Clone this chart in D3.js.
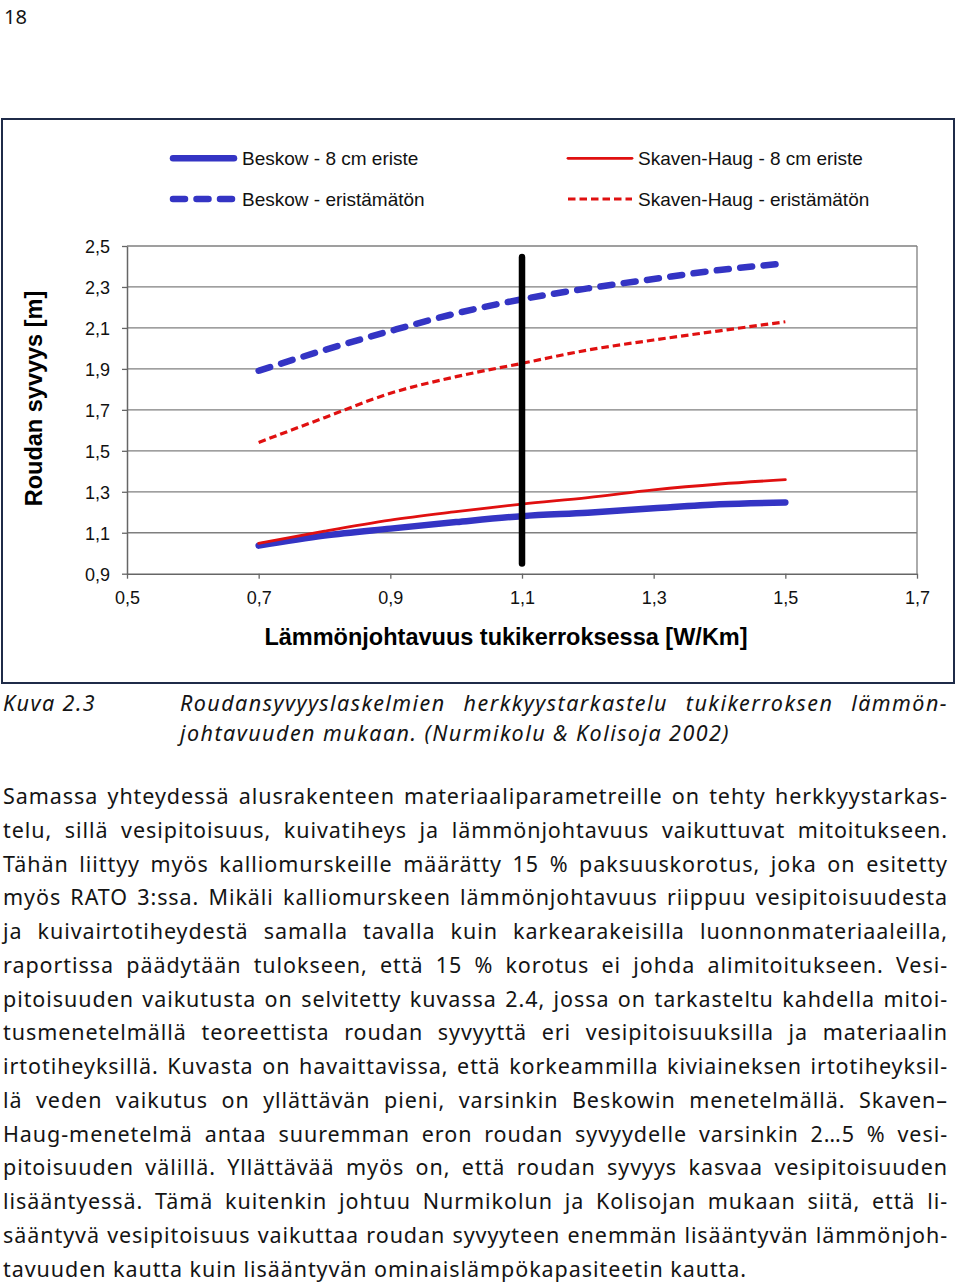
<!DOCTYPE html>
<html>
<head>
<meta charset="utf-8">
<script src="https://cdn.jsdelivr.net/npm/d3@7/dist/d3.min.js"></script>
<style>
  html, body { margin: 0; padding: 0; background: #fff; }
  svg { display: block; }
</style>
</head>
<body>
<svg id="page" width="960" height="1286"></svg>
<script>
// ---------------- DATA ----------------
const conductivity = [0.7, 0.8, 0.9, 1.0, 1.1, 1.2, 1.3, 1.4, 1.5];
const beskowInsulated   = [1.037, 1.086, 1.120, 1.152, 1.181, 1.198, 1.219, 1.239, 1.248];
const beskowUninsulated = [1.891, 1.992, 2.085, 2.171, 2.240, 2.293, 2.339, 2.383, 2.415];
const skavenInsulated   = [1.048, 1.108, 1.162, 1.203, 1.240, 1.271, 1.309, 1.338, 1.359];
const skavenUninsulated = [1.541, 1.662, 1.781, 1.862, 1.927, 1.992, 2.041, 2.086, 2.130];
const referenceK = 1.1;
const referenceDepth = [0.95, 2.446];

const seriesNames = ["Beskow - 8 cm eriste", "Beskow - eristämätön", "Skaven-Haug - 8 cm eriste", "Skaven-Haug - eristämätön"];
const xTicks = [0.5, 0.7, 0.9, 1.1, 1.3, 1.5, 1.7];
const xTickLabels = ["0,5", "0,7", "0,9", "1,1", "1,3", "1,5", "1,7"];
const yTicks = [0.9, 1.1, 1.3, 1.5, 1.7, 1.9, 2.1, 2.3, 2.5];
const yTickLabels = ["0,9", "1,1", "1,3", "1,5", "1,7", "1,9", "2,1", "2,3", "2,5"];
const xTitle = "Lämmönjohtavuus tukikerroksessa [W/Km]";
const yTitle = "Roudan syvyys [m]";

const pageNumber = "18";
const captionLabel = "Kuva 2.3";
const captionLines = [
  "Roudansyvyyslaskelmien herkkyystarkastelu tukikerroksen lämmön-",
  "johtavuuden mukaan. (Nurmikolu & Kolisoja 2002)"
];
const bodyLines = [
  "Samassa yhteydessä alusrakenteen materiaaliparametreille on tehty herkkyystarkas-",
  "telu, sillä vesipitoisuus, kuivatiheys ja lämmönjohtavuus vaikuttuvat mitoitukseen.",
  "Tähän liittyy myös kalliomurskeille määrätty 15 % paksuuskorotus, joka on esitetty",
  "myös RATO 3:ssa. Mikäli kalliomurskeen lämmönjohtavuus riippuu vesipitoisuudesta",
  "ja kuivairtotiheydestä samalla tavalla kuin karkearakeisilla luonnonmateriaaleilla,",
  "raportissa päädytään tulokseen, että 15 % korotus ei johda alimitoitukseen. Vesi-",
  "pitoisuuden vaikutusta on selvitetty kuvassa 2.4, jossa on tarkasteltu kahdella mitoi-",
  "tusmenetelmällä teoreettista roudan syvyyttä eri vesipitoisuuksilla ja materiaalin",
  "irtotiheyksillä. Kuvasta on havaittavissa, että korkeammilla kiviaineksen irtotiheyksil-",
  "lä veden vaikutus on yllättävän pieni, varsinkin Beskowin menetelmällä. Skaven–",
  "Haug-menetelmä antaa suuremman eron roudan syvyydelle varsinkin 2…5 % vesi-",
  "pitoisuuden välillä. Yllättävää myös on, että roudan syvyys kasvaa vesipitoisuuden",
  "lisääntyessä. Tämä kuitenkin johtuu Nurmikolun ja Kolisojan mukaan siitä, että li-",
  "sääntyvä vesipitoisuus vaikuttaa roudan syvyyteen enemmän lisääntyvän lämmönjoh-",
  "tavuuden kautta kuin lisääntyvän ominaislämpökapasiteetin kautta."
];

// ---------------- DRAWING ----------------
const svg = d3.select("#page");
const chartFont = "'Liberation Sans', Arial, sans-serif";
const textFont = "'Noto Sans', 'Open Sans', sans-serif";
const BLUE = "#3434c4", RED = "#e01010";

// frame
svg.append("rect").attr("x", 2).attr("y", 119).attr("width", 952).attr("height", 564)
  .attr("fill", "#fff").attr("stroke", "#1f2b48").attr("stroke-width", 2);

const x = d3.scaleLinear().domain([0.5, 1.7]).range([127, 917]);
const y = d3.scaleLinear().domain([0.9, 2.5]).range([573.7, 246]);

const plot = svg.append("g");

// gridlines
plot.selectAll("line.grid").data(yTicks.slice(1)).join("line")
  .attr("x1", x(0.5)).attr("x2", x(1.7))
  .attr("y1", d => y(d)).attr("y2", d => y(d))
  .attr("stroke", "#7f7f7f").attr("stroke-width", 1.3);
// right border of plot
plot.append("line").attr("x1", x(1.7)).attr("x2", x(1.7)).attr("y1", y(2.5)).attr("y2", y(0.9))
  .attr("stroke", "#7f7f7f").attr("stroke-width", 1.3);

// axes
const xAxis = d3.axisBottom(x).tickValues(xTicks).tickFormat((d, i) => xTickLabels[i]).tickSize(5).tickSizeOuter(0).tickPadding(8);
const yAxis = d3.axisLeft(y).tickValues(yTicks).tickFormat((d, i) => yTickLabels[i]).tickSize(5).tickSizeOuter(0).tickPadding(12);
const gx = svg.append("g").attr("transform", `translate(0,${y(0.9)})`).call(xAxis);
const gy = svg.append("g").attr("transform", `translate(${x(0.5)},0)`).call(yAxis);
[gx, gy].forEach(g => {
  g.select(".domain").attr("stroke", "#666").attr("stroke-width", 1.5);
  g.selectAll(".tick line").attr("stroke", "#666").attr("stroke-width", 1.3);
  g.selectAll(".tick text").attr("font-family", chartFont).attr("font-size", 18).attr("fill", "#111");
});
gx.selectAll(".tick text").attr("dy", "0.95em");
gy.selectAll(".tick text").attr("dy", "0.36em");

// axis titles
svg.append("text").attr("x", 506).attr("y", 645).attr("text-anchor", "middle")
  .attr("font-family", chartFont).attr("font-weight", "bold").attr("font-size", 23.5).attr("fill", "#000")
  .text(xTitle);
svg.append("text").attr("transform", "translate(42,398.5) rotate(-90)").attr("text-anchor", "middle")
  .attr("font-family", chartFont).attr("font-weight", "bold").attr("font-size", 23.5).attr("fill", "#000")
  .text(yTitle);

// series
const line = d3.line().x(d => x(d[0])).y(d => y(d[1])).curve(d3.curveMonotoneX);
const series = [
  { name: seriesNames[0], values: beskowInsulated,   color: BLUE, width: 6.5, dash: null, cap: "round" },
  { name: seriesNames[1], values: beskowUninsulated, color: BLUE, width: 6.5, dash: "12 11.5", cap: "round" },
  { name: seriesNames[2], values: skavenInsulated,   color: RED,  width: 2.8, dash: null, cap: "round" },
  { name: seriesNames[3], values: skavenUninsulated, color: RED,  width: 3.2, dash: "7.5 4", cap: "butt" }
];
series.forEach(s => {
  plot.append("path").datum(conductivity.map((k, i) => [k, s.values[i]]))
    .attr("d", line).attr("fill", "none").attr("stroke", s.color).attr("stroke-width", s.width)
    .attr("stroke-linecap", s.cap).attr("stroke-linejoin", "round")
    .attr("stroke-dasharray", s.dash);
});

// reference vertical line
plot.append("line").attr("x1", x(referenceK)).attr("x2", x(referenceK))
  .attr("y1", y(referenceDepth[0])).attr("y2", y(referenceDepth[1]))
  .attr("stroke", "#000").attr("stroke-width", 6.5).attr("stroke-linecap", "round");

// legend
const legendPos = [
  { lx: 173, ly: 158.3, tx: 242, ty: 165 },
  { lx: 173, ly: 199, tx: 242, ty: 205.5 },
  { lx: 568, ly: 158.3, tx: 638, ty: 165 },
  { lx: 568, ly: 199, tx: 638, ty: 205.5 }
];
series.forEach((s, i) => {
  const p = legendPos[i];
  const len = s.color === BLUE ? 61 : 64;
  svg.append("line").attr("x1", p.lx).attr("x2", p.lx + len).attr("y1", p.ly).attr("y2", p.ly)
    .attr("stroke", s.color).attr("stroke-width", s.width).attr("stroke-linecap", s.cap)
    .attr("stroke-dasharray", s.dash);
  svg.append("text").attr("x", p.tx).attr("y", p.ty).attr("font-family", chartFont)
    .attr("font-size", 19).attr("fill", "#111").text(s.name);
});

// ---------------- PAGE TEXT ----------------
const tg = svg.append("g").attr("font-family", textFont).attr("fill", "#141414");

function measure(txt, size, italic, ls) {
  const t = tg.append("text").attr("font-size", size).attr("font-style", italic ? "italic" : null)
    .attr("letter-spacing", ls || 0).text(txt);
  const w = t.node().getComputedTextLength();
  t.remove();
  return w;
}
function placeLine(txt, xPos, yPos, size, italic, ls, target, justify) {
  const t = tg.append("text").attr("x", xPos).attr("y", yPos).attr("font-size", size)
    .attr("font-style", italic ? "italic" : null).attr("letter-spacing", ls).text(txt);
  let w = t.node().getComputedTextLength();
  if (justify) {
    const spaces = (txt.match(/ /g) || []).length;
    if (spaces > 0) {
      t.attr("word-spacing", (target - w) / spaces);
      const w2 = t.node().getComputedTextLength();
      if (Math.abs(w2 - target) > 3) {
        t.attr("word-spacing", null).attr("textLength", target).attr("lengthAdjust", "spacing");
      }
    }
  }
  return t;
}

// page number
tg.append("text").attr("x", 4).attr("y", 24).attr("font-size", 20).attr("textLength", 23)
  .attr("lengthAdjust", "spacingAndGlyphs").text(pageNumber);

// caption
const capSize = 21.5;
const capLs = (550 - measure(captionLines[1], capSize, true, 0)) / captionLines[1].length;
tg.append("text").attr("x", 3).attr("y", 711).attr("font-size", capSize).attr("font-style", "italic")
  .attr("letter-spacing", capLs).text(captionLabel);
placeLine(captionLines[0], 180, 711, capSize, true, capLs, 768, true);
placeLine(captionLines[1], 180, 741, capSize, true, capLs, 550, false);

// body
const bodySize = 21.5;
const lastLine = bodyLines[bodyLines.length - 1];
const bodyLs = (744 - measure(lastLine, bodySize, false, 0)) / lastLine.length;
bodyLines.forEach((txt, i) => {
  const last = i === bodyLines.length - 1;
  placeLine(txt, 3, 804 + i * 33.75, bodySize, false, bodyLs, 945, !last);
});
</script>
</body>
</html>
